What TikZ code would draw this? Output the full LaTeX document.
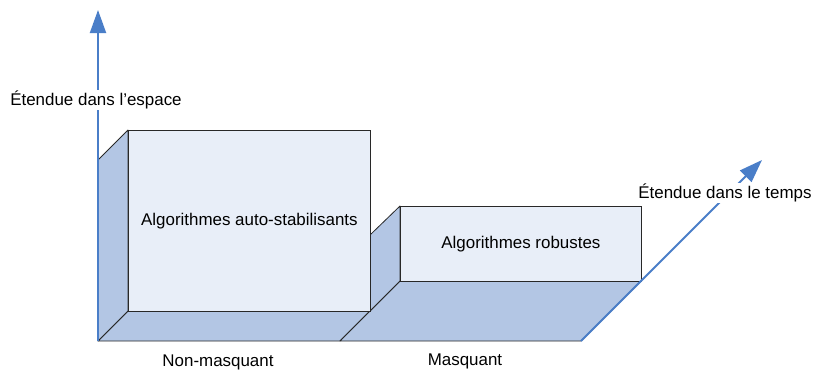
\documentclass[tikz,border=0pt]{standalone}
\usepackage{fontspec}
\setmainfont{Liberation Sans}
\definecolor{axisblue}{RGB}{74, 126, 200}
\definecolor{sideblue}{RGB}{179, 198, 228}
\definecolor{frontblue}{RGB}{232, 238, 248}
\definecolor{edgegray}{RGB}{40, 40, 40}
\usetikzlibrary{arrows.meta, positioning}

\begin{document}
\begin{tikzpicture}[x=1bp, y=-1bp,
  sideface/.style={draw=edgegray, fill=sideblue, line width=0.8bp, line join=round},
  frontface/.style={draw=edgegray, fill=frontblue, line width=0.8bp, inner sep=0pt, anchor=north west},
  axisline/.style={draw=axisblue, line width=2bp, -{Triangle[length=23bp, width=16bp]}},
  axislabel/.style={fill=white, inner sep=1bp, font=\fontsize{17}{20}\selectfont},
  txt/.style={font=\fontsize{17}{20}\selectfont}]
  \useasboundingbox (0,0) rectangle (815,371);

  % Axes end points
  \coordinate (origin) at (98, 341);
  \coordinate (spacetip) at (98, 10);
  \coordinate (floorend) at (581, 341);
  \coordinate (timetip) at (762, 160);

  % Floors and side panels
  \path[sideface] (origin) -- (128, 311) -- (370, 311) -- (340, 341) -- cycle;
  \path[sideface] (340, 341) -- (400, 281) -- (641, 281) -- (floorend) -- cycle;
  \path[sideface] (origin) -- (98, 160) -- (128, 130) -- (128, 311) -- cycle;
  \path[sideface] (370, 311) -- (370, 235) -- (400, 206) -- (400, 281) -- cycle;

  % Front faces
  \node[frontface, minimum width=242bp, minimum height=181bp, txt] (selfstab) at (128, 130) {Algorithmes auto-stabilisants};
  \node[frontface, minimum width=241bp, minimum height=75bp, txt] (robust) at (400, 206) {Algorithmes robustes};

  % Axes
  \draw[axisline] (origin) -- (spacetip);
  \draw[axisline] (floorend) -- (timetip);
  \node[axislabel] (spacelbl) at (96, 100) {Étendue dans l’espace};
  \node[axislabel] (timelbl) at (725, 193) {Étendue dans le temps};

  % Bottom labels
  \node[txt] (nonmask) at (218, 362) {Non-masquant};
  \node[txt] (mask) at (465, 361) {Masquant};
\end{tikzpicture}
\end{document}
